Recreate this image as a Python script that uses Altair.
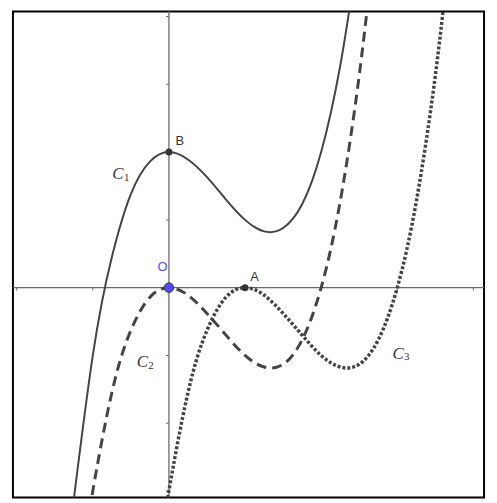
import altair as alt
import pandas as pd

# Curve samples (x in units, y in units)
c1_x = [-1.3, -1.0, -0.75, -0.5, -0.25, 0.0, 0.25, 0.5, 0.75, 1.0, 1.25, 1.5, 1.75, 2.0, 2.25, 2.45]
c1_y = [-3.58, -1.0, 0.45, 1.38, 1.86, 2.0, 1.89, 1.63, 1.30, 1.0, 0.83, 0.88, 1.23, 2.0, 3.27, 4.70]

c2_x = [-1.1, -1.0, -0.75, -0.5, -0.25, 0.0, 0.25, 0.5, 0.75, 1.0, 1.25, 1.5, 1.75, 2.0, 2.25, 2.5, 2.7]
c2_y = [-3.75, -3.0, -1.55, -0.63, -0.14, 0.0, -0.11, -0.38, -0.70, -1.0, -1.17, -1.13, -0.77, 0.0, 1.27, 3.13, 5.10]

c3_x = [-0.1, 0.0, 0.25, 0.5, 0.75, 1.0, 1.25, 1.5, 1.75, 2.0, 2.25, 2.5, 2.75, 3.0, 3.25, 3.5, 3.7]
c3_y = [-3.75, -3.0, -1.55, -0.63, -0.14, 0.0, -0.11, -0.38, -0.70, -1.0, -1.17, -1.13, -0.77, 0.0, 1.27, 3.13, 5.10]

pt_names = ["B", "O", "A"]
pt_x = [0.0, 0.0, 1.0]
pt_y = [2.0, 0.0, 0.0]

x_ticks = [-2, -1, 1, 2, 3, 4]
y_ticks = [-3, -2, -1, 1, 2, 3, 4]

XDOM = [-2.049, 4.140]
YDOM = [-3.095, 4.073]

xs = alt.Scale(domain=XDOM, nice=False, zero=False)
ys = alt.Scale(domain=YDOM, nice=False, zero=False)

def X(f="x:Q"):
    return alt.X(f, scale=xs, axis=None)

def Y(f="y:Q"):
    return alt.Y(f, scale=ys, axis=None)

df1 = pd.DataFrame({"x": c1_x, "y": c1_y})
df2 = pd.DataFrame({"x": c2_x, "y": c2_y})
df3 = pd.DataFrame({"x": c3_x, "y": c3_y})
dfp = pd.DataFrame({"name": pt_names, "x": pt_x, "y": pt_y})

AX = "#6a6a6a"
CURVE = "#444444"

# axes through the origin
dfax = pd.DataFrame({"x": [XDOM[0]], "x2": [XDOM[1]], "y": [0.0]})
dfay = pd.DataFrame({"x": [0.0], "y": [YDOM[0]], "y2": [YDOM[1]]})
xaxis_line = alt.Chart(dfax).mark_rule(color=AX, strokeWidth=1.3).encode(
    x=X(), x2="x2:Q", y=Y())
yaxis_line = alt.Chart(dfay).mark_rule(color=AX, strokeWidth=1.3).encode(
    x=X(), y=Y(), y2="y2:Q")
dfxt = pd.DataFrame({"x": x_ticks, "y": [0.0] * len(x_ticks)})
dfyt = pd.DataFrame({"y": y_ticks, "x": [0.0] * len(y_ticks)})
xticks = alt.Chart(dfxt).mark_rule(color=AX, strokeWidth=1, y2Offset=3).encode(
    x=X(), y=Y(), y2="y:Q")
yticks = alt.Chart(dfyt).mark_rule(color=AX, strokeWidth=1, x2Offset=-3).encode(
    x=X(), x2="x:Q", y=Y())

l1 = alt.Chart(df1).mark_line(interpolate="natural", clip=True, color=CURVE, strokeWidth=2).encode(
    x=X(), y=Y())
l2 = alt.Chart(df2).mark_line(interpolate="natural", clip=True, color=CURVE, strokeWidth=3,
                              strokeDash=[10, 6]).encode(x=X(), y=Y())
l3 = alt.Chart(df3).mark_line(interpolate="natural", clip=True, color=CURVE, strokeWidth=3.5,
                              strokeDash=[3, 2]).encode(x=X(), y=Y())

pts_dark = alt.Chart(dfp[dfp.name != "O"]).mark_circle(size=50, color="#333333", opacity=1).encode(
    x=X(), y=Y())
pt_o = alt.Chart(dfp[dfp.name == "O"]).mark_point(filled=True, size=95, fill="#4d4dff",
                                                    stroke="#222222", strokeWidth=0.8, opacity=1).encode(
    x=X(), y=Y())

# text labels
lab_text = ["B", "O", "A"]
lab_x = [0.085, -0.15, 1.07]
lab_y = [2.16, 0.307, 0.16]
lab_col = ["#333333", "#4d4dff", "#333333"]
dfl = pd.DataFrame({"t": lab_text, "x": lab_x, "y": lab_y, "c": lab_col})
labels = alt.Chart(dfl).mark_text(align="left", baseline="middle", font="Liberation Sans", fontSize=13).encode(
    x=X(), y=Y(), text="t:N", color=alt.Color("c:N", scale=None))

cname = ["C", "C", "C"]
cname_x = [-0.67, -0.35, 3.01]
cname_y = [1.68, -1.095, -0.978]
csub = ["1", "2", "3"]
csub_x = [-0.555, -0.235, 3.125]
csub_y = [1.62, -1.16, -1.03]
dfc = pd.DataFrame({"t": cname, "x": cname_x, "y": cname_y})
dfs = pd.DataFrame({"t": csub, "x": csub_x, "y": csub_y})
ctext = alt.Chart(dfc).mark_text(align="center", baseline="middle", font="Liberation Serif",
                                 fontStyle="italic", fontSize=17, color="#333333").encode(
    x=X(), y=Y(), text="t:N")
stext = alt.Chart(dfs).mark_text(align="center", baseline="middle", font="Liberation Serif",
                                 fontSize=11, color="#333333").encode(
    x=X(), y=Y(), text="t:N")

chart = alt.layer(xaxis_line, yaxis_line, xticks, yticks, l1, l2, l3, pts_dark, pt_o,
                  labels, ctext, stext).properties(
    width=476, height=491,
    autosize=alt.AutoSizeParams(type="none"),
    padding={"left": 5, "top": 1, "right": 5, "bottom": 5},
    background="white",
).configure_view(stroke="black", strokeWidth=2)

chart.save("out.html", embed_options={"renderer": "svg", "actions": False})
